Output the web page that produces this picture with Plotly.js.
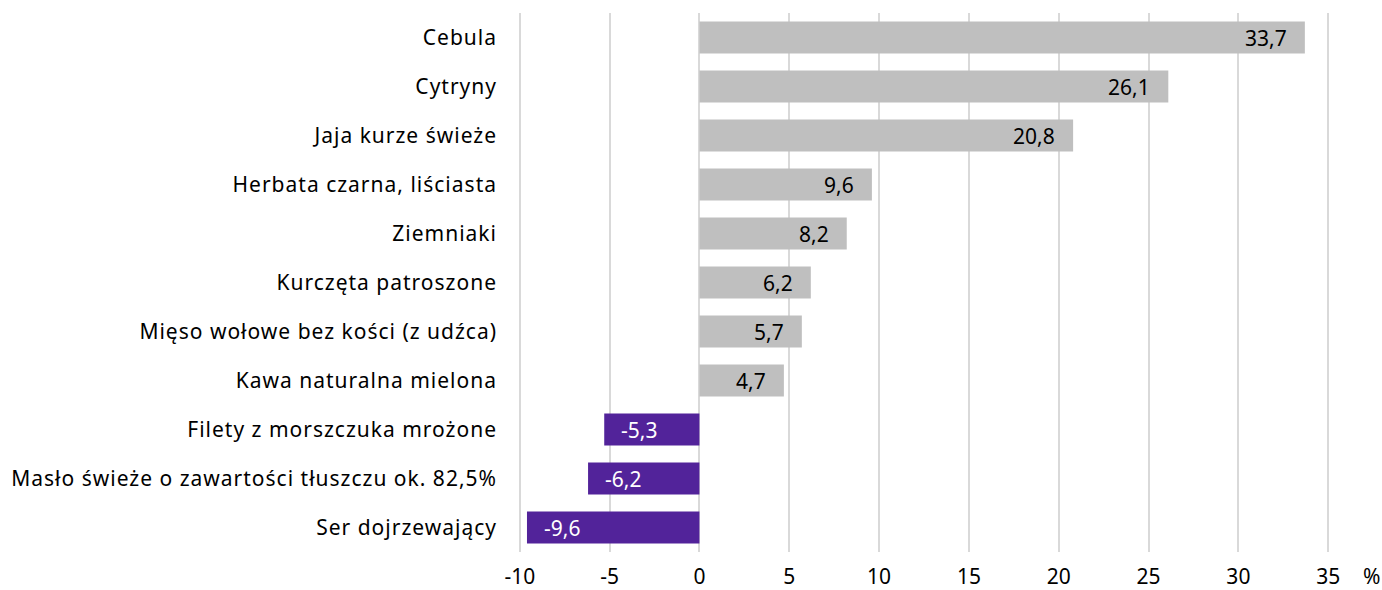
<!DOCTYPE html>
<html>
<head>
<meta charset="utf-8">
<script src="https://cdn.plot.ly/plotly-3.0.1.min.js"></script>
<style>
html,body{margin:0;padding:0;background:#fff;}
#chart{width:1382px;height:590px;}
#chart .ytick text{letter-spacing:1px;}
</style>
</head>
<body>
<div id="chart"></div>
<script>
const categories = [
  "Cebula",
  "Cytryny",
  "Jaja kurze świeże",
  "Herbata czarna, liściasta",
  "Ziemniaki",
  "Kurczęta patroszone",
  "Mięso wołowe bez kości (z udźca)",
  "Kawa naturalna mielona",
  "Filety z morszczuka mrożone",
  "Masło świeże o zawartości tłuszczu ok. 82,5%",
  "Ser dojrzewający"
];
const values = [33.7, 26.1, 20.8, 9.6, 8.2, 6.2, 5.7, 4.7, -5.3, -6.2, -9.6];
const tickVals = [-10, -5, 0, 5, 10, 15, 20, 25, 30, 35];
const tickText = ["-10", "-5", "0", "5", "10", "15", "20", "25", "30", "35"];
const unitLabel = "%";

const FONT = "'Noto Sans', 'Open Sans', sans-serif";
const colors = values.map(v => v >= 0 ? "#BFBFBF" : "#52239A");
const labelText = values.map(v => v.toFixed(1).replace(".", ","));

const annotations = values.map((v, i) => ({
  x: v, y: categories[i], xref: "x", yref: "y",
  text: labelText[i], showarrow: false,
  xanchor: v >= 0 ? "right" : "left",
  xshift: v >= 0 ? -16 : 15,
  font: {family: FONT, size: 21, color: v >= 0 ? "#000000" : "#FFFFFF"}
}));
annotations.push({
  xref: "paper", yref: "paper", x: 1, y: 0, xshift: 41, yshift: -24,
  xanchor: "center", yanchor: "middle",
  text: unitLabel, showarrow: false,
  font: {family: FONT, size: 21, color: "#000000"}
});

const trace = {
  type: "bar", orientation: "h",
  x: values, y: categories,
  marker: {color: colors},
  hoverinfo: "skip"
};

const layout = {
  width: 1382, height: 590,
  margin: {l: 518, r: 52, t: 13, b: 38, pad: 0},
  paper_bgcolor: "#ffffff", plot_bgcolor: "#ffffff",
  bargap: 0.35,
  showlegend: false,
  font: {family: FONT, size: 21, color: "#000000"},
  xaxis: {
    range: [-10.1, 35.1], tickvals: tickVals, ticktext: tickText,
    showgrid: true, gridcolor: "#D9D9D9", gridwidth: 2,
    zeroline: false, showline: false, ticks: "",
    ticklabelstandoff: 10,
    tickfont: {family: FONT, size: 21, color: "#000000"},
    fixedrange: true
  },
  yaxis: {
    type: "category", autorange: "reversed",
    showgrid: false, zeroline: false, showline: false, ticks: "",
    ticklabelstandoff: 20,
    tickfont: {family: FONT, size: 21, color: "#000000"},
    fixedrange: true
  },
  annotations: annotations
};

Plotly.newPlot("chart", [trace], layout, {displayModeBar: false, staticPlot: true});
</script>
</body>
</html>
